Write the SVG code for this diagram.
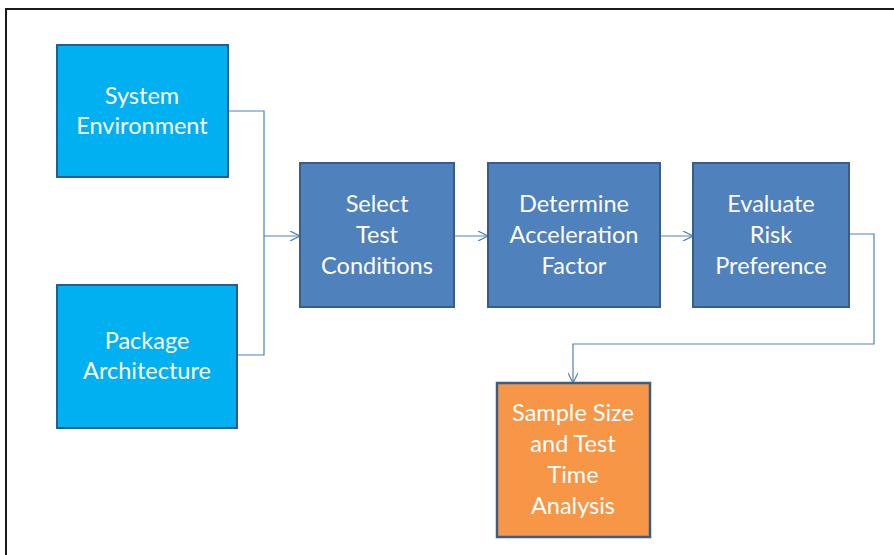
<svg xmlns="http://www.w3.org/2000/svg" width="894" height="555" viewBox="0 0 894 555">
<defs>
<style>
.lb{fill:#00B0F0;stroke:#2E5A8C;stroke-width:2}
.mb{fill:#4F81BD;stroke:#385D8A;stroke-width:2}
.or{fill:#F79646;stroke:#385D8A;stroke-width:2.5}
.t{font-family:Lato,"Open Sans","Liberation Sans",sans-serif;font-size:23.5px;fill:#FFFFFF;text-anchor:middle}
.c{fill:none;stroke:#4F81BD;stroke-width:1.2}
</style>
<marker id="ah" viewBox="0 0 10 10" refX="10" refY="5" markerWidth="10" markerHeight="10" markerUnits="userSpaceOnUse" orient="auto">
<path d="M0,0 L10,5 L0,10" fill="none" stroke="#4F81BD" stroke-width="1.2"/>
</marker>
</defs>
<rect x="0" y="0" width="894" height="555" fill="#FFFFFF"/>
<rect x="6" y="9" width="910" height="570" fill="none" stroke="#1A1A1A" stroke-width="2"/>
<g id="connectors">
<polyline class="c" points="228,111 264,111 264,355 237,355"/>
<line class="c" x1="264" y1="236" x2="300" y2="236" marker-end="url(#ah)"/>
<line class="c" x1="454" y1="236" x2="488" y2="236" marker-end="url(#ah)"/>
<line class="c" x1="660" y1="236" x2="693" y2="236" marker-end="url(#ah)"/>
<polyline class="c" points="849,234 874,234 874,344 573,344 573,383" marker-end="url(#ah)"/>
</g>
<g id="system-environment">
<rect class="lb" x="57" y="45" width="171" height="132"/>
<text class="t" x="142" y="104">System</text>
<text class="t" x="142" y="134">Environment</text>
</g>
<g id="package-architecture">
<rect class="lb" x="57" y="285" width="180" height="143"/>
<text class="t" x="147" y="349">Package</text>
<text class="t" x="147" y="379">Architecture</text>
</g>
<g id="select-test-conditions">
<rect class="mb" x="300" y="163" width="154" height="144"/>
<text class="t" x="377" y="212">Select</text>
<text class="t" x="377" y="243">Test</text>
<text class="t" x="377" y="274">Conditions</text>
</g>
<g id="determine-acceleration-factor">
<rect class="mb" x="488" y="163" width="172" height="144"/>
<text class="t" x="574" y="212">Determine</text>
<text class="t" x="574" y="243">Acceleration</text>
<text class="t" x="574" y="274">Factor</text>
</g>
<g id="evaluate-risk-preference">
<rect class="mb" x="693" y="163" width="156" height="144"/>
<text class="t" x="771" y="212">Evaluate</text>
<text class="t" x="771" y="243">Risk</text>
<text class="t" x="771" y="274">Preference</text>
</g>
<g id="sample-size">
<rect class="or" x="497" y="383" width="153" height="154"/>
<text class="t" x="573" y="421">Sample Size</text>
<text class="t" x="573" y="452">and Test</text>
<text class="t" x="573" y="483">Time</text>
<text class="t" x="573" y="514">Analysis</text>
</g>
</svg>
